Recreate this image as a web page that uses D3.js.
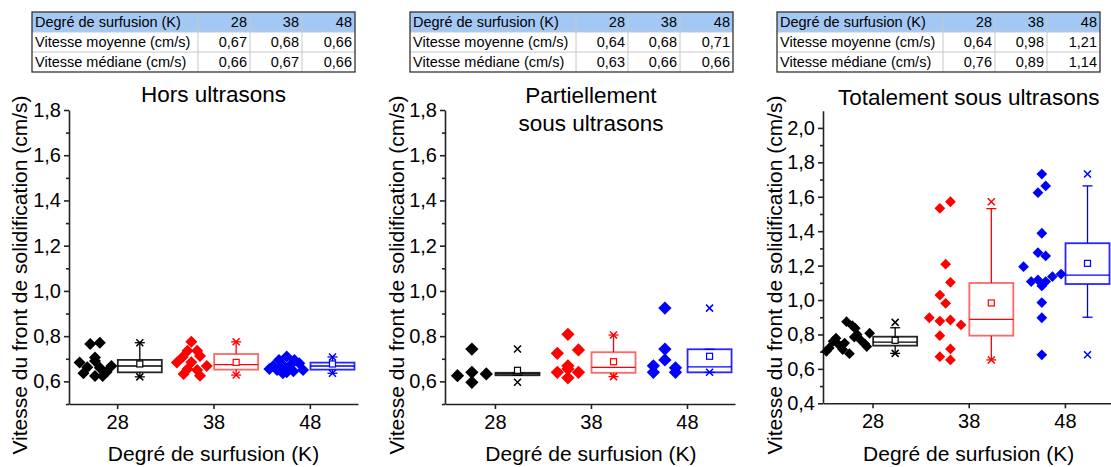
<!DOCTYPE html>
<html>
<head>
<meta charset="utf-8">
<script src="https://cdn.jsdelivr.net/npm/d3@7"></script>
<style>
  body { margin: 0; background: #fff; }
  svg { display: block; font-family: "Liberation Sans", Arial, sans-serif; }
</style>
</head>
<body>
<div id="chart"></div>
<script>
// ---- data ----
const groups = [28, 38, 48];
const groupColors = ["#000000", "#ff0000", "#0000ff"];

const titleHors = ["Hors ultrasons"];
const titlePartiel = ["Partiellement", "sous ultrasons"];
const titleTotal = ["Totalement sous ultrasons"];

const tableRowLabels = ["Degré de surfusion (K)", "Vitesse moyenne (cm/s)", "Vitesse médiane (cm/s)"];
const tableHeader = ["28", "38", "48"];
const meanHors = ["0,67", "0,68", "0,66"];
const medianHors = ["0,66", "0,67", "0,66"];
const meanPartiel = ["0,64", "0,68", "0,71"];
const medianPartiel = ["0,63", "0,66", "0,66"];
const meanTotal = ["0,64", "0,98", "1,21"];
const medianTotal = ["0,76", "0,89", "1,14"];

// scatter points: [offset from group (K), speed (cm/s)]
const horsPts = [
  [[-3.9,0.683],[-2.8,0.765],[-1.8,0.771],[-2.3,0.706],[-3.1,0.662],[-1.8,0.660],[-3.5,0.636],
   [-2.3,0.624],[-1.1,0.641],[-0.6,0.668],[-2.3,0.690],[-1.5,0.624]],
  [[-2.3,0.775],[-2.7,0.735],[-1.7,0.735],[-3.2,0.708],[-1.4,0.712],[-3.8,0.683],[-0.7,0.668],
   [-2.7,0.655],[-1.7,0.650],[-3.1,0.633],[-1.4,0.625],[-2.3,0.685]],
  [[-2.4,0.710],[-3.2,0.695],[-1.6,0.695],[-3.8,0.668],[-2.8,0.672],[-2.0,0.672],[-1.1,0.680],
   [-4.2,0.655],[-3.4,0.650],[-2.4,0.640],[-1.7,0.645],[-0.7,0.650],[-2.8,0.636]]
];
const partielPts = [
  [[-2.4,0.743],[-3.9,0.625],[-2.4,0.640],[-2.4,0.596],[-0.9,0.633]],
  [[-2.4,0.808],[-3.5,0.724],[-1.3,0.739],[-2.4,0.669],[-3.5,0.640],[-2.4,0.655],[-1.3,0.640],[-2.4,0.616]],
  [[-2.3,0.924],[-2.3,0.743],[-2.3,0.695],[-3.5,0.669],[-3.5,0.640],[-1.2,0.660],[-1.2,0.640]]
];
const totalPts = [
  [[-2.7,0.874],[-2.1,0.851],[-0.3,0.807],[-1.6,0.800],[-1.9,0.785],[-1.2,0.765],[-0.8,0.745],
   [-0.6,0.730],[-3.8,0.778],[-4.1,0.760],[-4.5,0.722],[-4.8,0.702],[-2.9,0.750],[-3.1,0.712],
   [-2.4,0.688],[-3.5,0.740],[-1.8,0.836]],
  [[-3.0,1.533],[-1.9,1.571],[-2.4,1.208],[-1.9,1.103],[-3.0,1.029],[-2.4,0.981],[-4.1,0.897],
   [-3.0,0.878],[-1.9,0.884],[-0.8,0.855],[-3.0,0.793],[-1.9,0.716],[-3.0,0.671],[-1.9,0.652]],
  [[-2.4,1.732],[-2.0,1.663],[-2.8,1.624],[-2.4,1.388],[-2.8,1.275],[-2.0,1.256],[-4.3,1.194],
   [-0.4,1.151],[-1.3,1.136],[-3.5,1.107],[-2.8,1.117],[-2.0,1.107],[-2.4,1.082],[-2.4,0.985],
   [-2.4,0.897],[-2.4,0.682]]
];

// box stats per group: [q1, median, q3, mean, whiskerLow, whiskerHigh, min, max]
const horsBox = [
  [0.640, 0.668, 0.695, 0.677, 0.620, 0.771, 0.620, 0.771],
  [0.652, 0.674, 0.721, 0.684, 0.628, 0.775, 0.628, 0.775],
  [0.652, 0.668, 0.683, 0.677, 0.636, 0.708, 0.636, 0.708]
];
const partielBox = [
  [0.627, 0.633, 0.638, 0.649, 0.627, 0.638, 0.596, 0.743],
  [0.638, 0.662, 0.729, 0.687, 0.621, 0.805, 0.621, 0.805],
  [0.640, 0.664, 0.742, 0.711, 0.640, 0.742, 0.640, 0.924]
];
const totalBox = [
  [0.735, 0.756, 0.787, 0.766, 0.690, 0.839, 0.690, 0.870],
  [0.793, 0.888, 1.099, 0.983, 0.652, 1.531, 0.652, 1.571],
  [1.093, 1.145, 1.330, 1.213, 0.900, 1.663, 0.682, 1.732]
];

const yTicksLow = [0.6, 0.8, 1.0, 1.2, 1.4, 1.6, 1.8];
const yMinorLow = [0.5, 0.7, 0.9, 1.1, 1.3, 1.5, 1.7];
const yTicksHigh = [0.4, 0.6, 0.8, 1.0, 1.2, 1.4, 1.6, 1.8, 2.0];
const yMinorHigh = [0.5, 0.7, 0.9, 1.1, 1.3, 1.5, 1.7, 1.9];

// ---- layout ----
const W = 1111, H = 467;
const panels = [
  {title: titleHors, pts: horsPts, box: horsBox, mean: meanHors, median: medianHors,
   left: 69, right: 358, top: 110, bottom: 404, xDom: [23, 53], yDom: [0.5, 1.8],
   ticks: yTicksLow, minor: yMinorLow, ylabX: 20, titleY: [102], tableX: 32, sym: 72},
  {title: titlePartiel, pts: partielPts, box: partielBox, mean: meanPartiel, median: medianPartiel,
   left: 445, right: 735, top: 110, bottom: 404, xDom: [22.8, 53], yDom: [0.5, 1.8],
   ticks: yTicksLow, minor: yMinorLow, ylabX: 397, titleY: [103, 131], tableX: 410, sym: 88},
  {title: titleTotal, pts: totalPts, box: totalBox, mean: meanTotal, median: medianTotal,
   left: 823, right: 1113, top: 110.7, bottom: 403.3, xDom: [22.85, 53], yDom: [0.4, 2.1],
   ticks: yTicksHigh, minor: yMinorHigh, ylabX: 775, titleY: [105], tableX: 777, sym: 58}
];

const svg = d3.select("#chart").append("svg")
  .attr("width", W).attr("height", H);

const fmt = d => d3.format(".1f")(d).replace(".", ",");
const colW = [166, 52, 52, 53];
const rowH = 20, tableTop = 12;

panels.forEach((p, pi) => {
  const x = d3.scaleLinear().domain(p.xDom).range([p.left, p.right]);
  const y = d3.scaleLinear().domain(p.yDom).range([p.bottom, p.top]);
  const g = svg.append("g");

  // table above the panel
  const tg = g.append("g").attr("transform", `translate(${p.tableX},${tableTop})`);
  const totalW = d3.sum(colW);
  tg.append("rect").attr("width", totalW).attr("height", rowH).attr("fill", "#a4c8f4");
  const colX = [0];
  colW.forEach((w, k) => colX.push(colX[k] + w));
  const rows = [tableHeader, p.mean, p.median];
  rows.forEach((vals, r) => {
    tg.append("text").attr("x", 3).attr("y", r * rowH + 15)
      .attr("font-size", 14.5).text(tableRowLabels[r]);
    vals.forEach((v, c) => {
      tg.append("text").attr("x", colX[c + 2] - 3).attr("y", r * rowH + 15)
        .attr("text-anchor", "end").attr("font-size", 14.5).text(v);
    });
  });
  [1, 2].forEach(r => tg.append("line").attr("x1", 0).attr("x2", totalW)
    .attr("y1", r * rowH).attr("y2", r * rowH).attr("stroke", "#c8c8c8"));
  [1, 2, 3].forEach(c => tg.append("line").attr("x1", colX[c]).attr("x2", colX[c])
    .attr("y1", 0).attr("y2", 3 * rowH).attr("stroke", "#c8c8c8"));
  tg.append("rect").attr("width", totalW).attr("height", 3 * rowH)
    .attr("fill", "none").attr("stroke", "#333").attr("stroke-width", 1.3);

  // title
  p.title.forEach((t, k) => {
    g.append("text").attr("x", x(38)).attr("y", p.titleY[k])
      .attr("text-anchor", "middle").attr("font-size", 22.5).text(t);
  });

  // axes
  const ya = g.append("g").attr("transform", `translate(${p.left},0)`)
    .call(d3.axisLeft(y).tickValues(p.ticks).tickFormat(fmt).tickSize(5).tickSizeOuter(0).tickPadding(3));
  const ym = g.append("g").attr("transform", `translate(${p.left},0)`)
    .call(d3.axisLeft(y).tickValues(p.minor).tickFormat("").tickSize(3));
  ym.select(".domain").remove();
  const xa = g.append("g").attr("transform", `translate(0,${p.bottom})`)
    .call(d3.axisBottom(x).tickValues(groups).tickSize(5).tickSizeOuter(0).tickPadding(6));
  [ya, ym, xa].forEach(a => {
    a.attr("font-family", null).attr("font-size", 20);
    a.selectAll("path, line").attr("stroke", "#222").attr("stroke-width", 1.6);
    a.selectAll("text").attr("fill", "#000");
  });

  // axis titles
  g.append("text").attr("transform", `translate(${p.ylabX},275) rotate(-90)`)
    .attr("text-anchor", "middle").attr("dy", "0.35em").attr("font-size", 21)
    .text("Vitesse du front de solidification (cm/s)");
  g.append("text").attr("x", x(38)).attr("y", 461)
    .attr("text-anchor", "middle").attr("font-size", 21).text("Degré de surfusion (K)");

  // groups: scatter + box
  const sym = d3.symbol(d3.symbolSquare, p.sym);
  groups.forEach((grp, j) => {
    const col = groupColors[j];
    g.append("g").selectAll("path")
      .data(p.pts[j])
      .join("path")
        .attr("d", sym)
        .attr("transform", d => `translate(${x(grp + d[0])},${y(d[1])}) rotate(45)`)
        .attr("fill", col);

    const [q1, med, q3, mean, wLo, wHi, mn, mx] = p.box[j];
    const cx = x(grp + 2.35), hw = 22, cap = 5;
    const bg = g.append("g").attr("stroke", col).attr("fill", "none");
    bg.append("line").attr("x1", cx).attr("x2", cx).attr("y1", y(q3)).attr("y2", y(wHi)).attr("stroke-width", 1.3);
    bg.append("line").attr("x1", cx).attr("x2", cx).attr("y1", y(q1)).attr("y2", y(wLo)).attr("stroke-width", 1.3);
    [wLo, wHi].forEach(v => bg.append("line").attr("x1", cx - cap).attr("x2", cx + cap)
      .attr("y1", y(v)).attr("y2", y(v)).attr("stroke-width", 1.3));
    bg.append("rect").attr("x", cx - hw).attr("width", 2 * hw)
      .attr("y", y(q3)).attr("height", y(q1) - y(q3))
      .attr("stroke-width", 1.8).attr("stroke-opacity", j === 1 ? 0.6 : 0.85);
    bg.append("line").attr("x1", cx - hw).attr("x2", cx + hw)
      .attr("y1", y(med)).attr("y2", y(med)).attr("stroke-width", 1.3);
    bg.append("rect").attr("x", cx - 3).attr("y", y(mean) - 3).attr("width", 6).attr("height", 6)
      .attr("fill", "#fff").attr("stroke-width", 1.2);
    [mn, mx].forEach(v => bg.append("path")
      .attr("d", `M${cx - 3.5},${y(v) - 3.5}L${cx + 3.5},${y(v) + 3.5}M${cx - 3.5},${y(v) + 3.5}L${cx + 3.5},${y(v) - 3.5}`)
      .attr("stroke-width", 1.5));
  });
});
</script>
</body>
</html>
